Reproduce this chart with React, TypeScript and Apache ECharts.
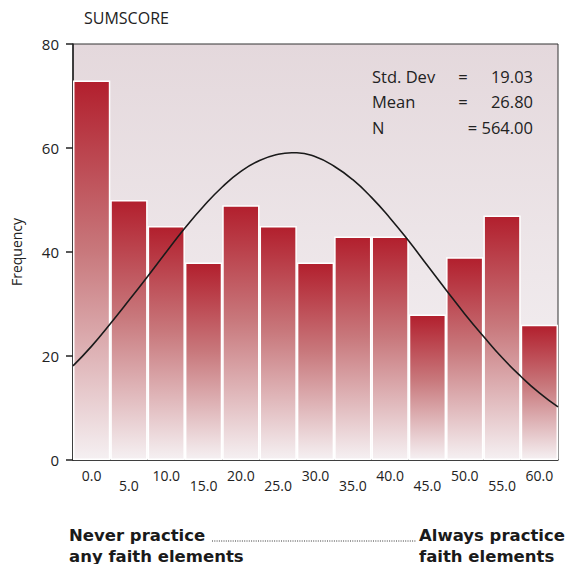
import React, { useEffect, useRef } from "react";
import * as echarts from "echarts";

const categories = ["0.0", "5.0", "10.0", "15.0", "20.0", "25.0", "30.0", "35.0", "40.0", "45.0", "50.0", "55.0", "60.0"];
const frequencies = [73, 50, 45, 38, 49, 45, 38, 43, 43, 28, 39, 47, 26];
const curveX = [-2.5, 0, 2.5, 5, 7.5, 10, 12.5, 15, 17.5, 20, 22.5, 25, 26.8, 27.5, 30, 32.5, 35, 37.5, 40, 42.5, 45, 47.5, 50, 52.5, 55, 57.5, 60, 62.5];
const curveY = [18.1, 21.9, 26.2, 30.7, 35.3, 40.0, 44.6, 48.8, 52.5, 55.5, 57.6, 58.8, 59.1, 59.1, 58.3, 56.5, 53.9, 50.5, 46.5, 42.1, 37.4, 32.7, 28.1, 23.8, 19.7, 16.1, 12.9, 10.2];
const yTicks = [0, 20, 40, 60, 80];
const statLabels = ["Std. Dev", "Mean", "N"];
const statValues = ["19.03", "26.80", "564.00"];
const leftNote = "Never practice\nany faith elements";
const rightNote = "Always practice\nfaith elements";

const FONT = "'Open Sans', Lato, sans-serif";
const BOLD_FONT = "'DejaVu Sans', 'Open Sans', sans-serif";

export default function App() {
  const ref = useRef<HTMLDivElement>(null);
  useEffect(() => {
    if (!ref.current) return;
    const chart = echarts.init(ref.current, null, { renderer: "svg" });
    const curve = curveX.map((x, i) => [x, curveY[i]]);
    const boldText = (text: string, x: number, y: number) => ({
      type: "text",
      x,
      y,
      style: {
        text,
        fontSize: 16.5,
        lineHeight: 21,
        fontWeight: "bold",
        fill: "#1a1a1a",
        fontFamily: BOLD_FONT,
        verticalAlign: "top",
      },
    });
    chart.setOption({
      animation: false,
      textStyle: { fontFamily: FONT },
      title: {
        text: "SUMSCORE",
        left: 79,
        top: 5,
        textStyle: { fontSize: 16, fontWeight: "normal", color: "#222", fontFamily: FONT },
      },
      grid: {
        left: 73,
        top: 44,
        right: 18,
        bottom: 112,
        show: true,
        borderColor: "#333",
        borderWidth: 1,
        backgroundColor: new echarts.graphic.LinearGradient(0, 0, 0, 1, [
          { offset: 0, color: "#e4d8dc" },
          { offset: 1, color: "#f6f3f5" },
        ]),
      },
      xAxis: [
        {
          type: "category",
          data: categories,
          boundaryGap: true,
          axisLine: { onZero: false, lineStyle: { color: "#222", width: 1.5 } },
          axisTick: { alignWithLabel: true, length: 10, lineStyle: { color: "#222", width: 1.5 } },
          axisLabel: {
            interval: 0,
            margin: 8,
            color: "#222",
            fontSize: 14,
            fontFamily: FONT,
            formatter: (v: string, i: number) => (i % 2 ? `{b|${v}}` : `{a|${v}}`),
            rich: {
              a: { fontSize: 14, fontFamily: FONT, color: "#222" },
              b: { fontSize: 14, fontFamily: FONT, color: "#222", padding: [10, 0, 0, 0] },
            },
          },
          splitLine: { show: false },
        },
        {
          type: "value",
          min: -2.5,
          max: 62.5,
          show: false,
        },
      ],
      yAxis: {
        type: "value",
        min: 0,
        max: 80,
        interval: 20,
        name: "Frequency",
        nameLocation: "middle",
        nameGap: 50,
        nameTextStyle: { fontSize: 14, color: "#222", fontFamily: FONT },
        axisLine: { show: true, onZero: false, lineStyle: { color: "#222", width: 1.5 } },
        axisTick: { show: true, length: 7, lineStyle: { color: "#222", width: 1.5 } },
        axisLabel: {
          margin: 14,
          color: "#222",
          fontSize: 15,
          fontFamily: FONT,
          formatter: (v: number) => (yTicks.includes(v) ? String(v) : ""),
        },
        splitLine: { show: false },
      },
      series: [
        {
          type: "bar",
          data: frequencies,
          xAxisIndex: 0,
          barCategoryGap: "0%",
          itemStyle: {
            borderColor: "#ffffff",
            borderWidth: 1.5,
            color: new echarts.graphic.LinearGradient(0, 0, 0, 1, [
              { offset: 0, color: "#b21f2d" },
              { offset: 0.45, color: "#c8787c" },
              { offset: 1, color: "#f5f0f2" },
            ]),
          },
        },
        {
          type: "line",
          data: curve,
          xAxisIndex: 1,
          smooth: true,
          symbol: "none",
          lineStyle: { color: "#1a1a1a", width: 1.6 },
          z: 5,
        },
      ],
      graphic: [
        ...statLabels.map((t, i) => ({
          type: "text",
          x: 372,
          y: 76 + i * 25.5,
          style: { text: t, fontSize: 16.5, fill: "#222", fontFamily: FONT, verticalAlign: "middle" },
        })),
        ...statValues.map((t, i) => ({
          type: "text",
          x: 533,
          y: 76 + i * 25.5,
          style: {
            text: i < 2 ? t : "= " + t,
            fontSize: 16.5,
            fill: "#222",
            fontFamily: FONT,
            align: "right",
            verticalAlign: "middle",
          },
        })),
        ...[0, 1].map((i) => ({
          type: "text",
          x: 463,
          y: 76 + i * 25.5,
          style: { text: "=", fontSize: 16.5, fill: "#222", fontFamily: FONT, align: "center", verticalAlign: "middle" },
        })),
        boldText(leftNote, 69, 525),
        boldText(rightNote, 419, 525),
        {
          type: "line",
          shape: { x1: 212, y1: 541, x2: 416, y2: 541 },
          style: { stroke: "#333", lineWidth: 1, lineDash: [1, 1.3] },
        },
      ],
    });
    return () => chart.dispose();
  }, []);
  return <div ref={ref} style={{ width: 576, height: 572, margin: -8 }} />;
}
